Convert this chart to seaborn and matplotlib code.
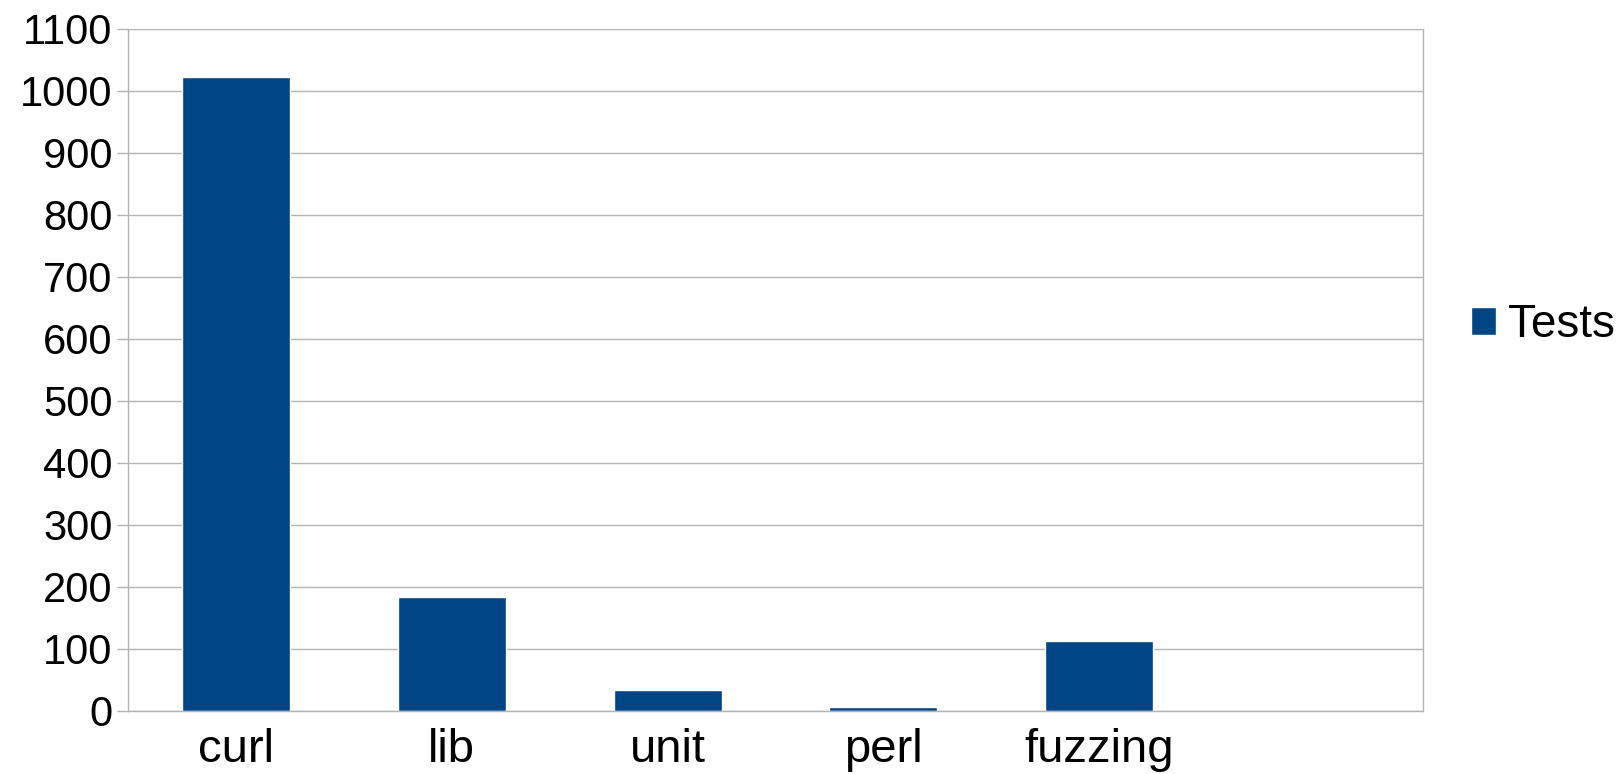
import pandas as pd
import matplotlib
matplotlib.use("Agg")
import matplotlib.pyplot as plt
import seaborn as sns
from matplotlib.patches import Patch

# data
categories = ['curl', 'lib', 'unit', 'perl', 'fuzzing']
tests = [1023, 184, 34, 6, 113]
yticks = list(range(0, 1101, 100))

df = pd.DataFrame({'category': categories, 'Tests': tests})
order = categories + ['']  # LibreOffice leaves an empty slot at the end

sns.set_style('white')
plt.rcParams['font.family'] = ['Liberation Sans', 'DejaVu Sans']
plt.rcParams['text.color'] = 'black'
plt.rcParams['xtick.color'] = 'black'
plt.rcParams['ytick.color'] = 'black'

grid_c = '#b3b3b3'
bar_c = '#004586'
fs_y = 30
fs_x = 34
fs_leg = 33

fig = plt.figure(figsize=(16.19, 7.74), dpi=100)
ax = fig.add_axes([128 / 1619, 1 - 711 / 774, (1423 - 128) / 1619, (711 - 29) / 774])

sns.barplot(data=df, x='category', y='Tests', order=order, color=bar_c,
            width=0.5, saturation=1, ax=ax)

ax.set_xlim(-0.5, len(order) - 0.5)
ax.set_ylim(0, 1100)
ax.set_yticks(yticks)
ax.set_yticklabels([str(t) for t in yticks], fontsize=fs_y)
ax.yaxis.grid(True, color=grid_c, linewidth=1)
ax.set_axisbelow(True)

# category labels centred, tick marks at category boundaries
ax.set_xticks(range(len(order)))
ax.set_xticklabels(order, fontsize=fs_x)
ax.set_xticks([i - 0.5 for i in range(len(order) + 1)], minor=True)
ax.tick_params(axis='x', which='major', length=0, pad=12)
ax.tick_params(axis='x', which='minor', length=11, color=grid_c, width=1, direction='out')
ax.tick_params(axis='y', length=8, color=grid_c, labelcolor='black', width=1,
               direction='out', pad=3, left=True)
ax.tick_params(axis='x', labelcolor='black')
ax.set_xlabel('')
ax.set_ylabel('')

for side in ['left', 'right', 'bottom']:
    ax.spines[side].set_visible(True)
    ax.spines[side].set_color(grid_c)
    ax.spines[side].set_linewidth(1)
ax.spines['top'].set_visible(False)

fig.legend(handles=[Patch(facecolor=bar_c, label='Tests')], loc='center left',
           bbox_to_anchor=(1471 / 1619, 1 - 325 / 774), frameon=False,
           fontsize=fs_leg, handlelength=0.55, handleheight=0.55, handletextpad=0.25,
           borderpad=0, borderaxespad=0)

fig.savefig('out.png', dpi=100)
